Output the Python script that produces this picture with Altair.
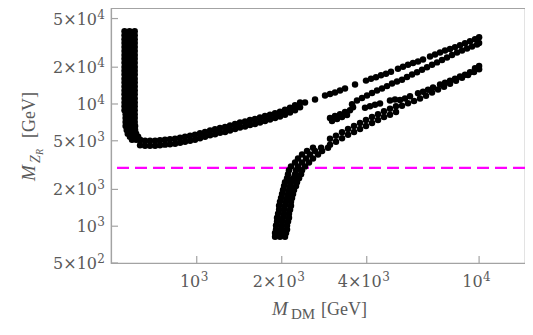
import altair as alt
import pandas as pd

# ---------------- data: (M_DM [GeV], M_ZR [GeV]) ----------------
# near-vertical band at low M_DM
left_band = [
    (555, 39300), (578, 39300), (603, 39300),
    (555, 36500), (578, 36500), (603, 36500),
    (555, 33900), (578, 33900), (603, 33900),
    (555, 31500), (578, 31500), (603, 31500),
    (555, 29200), (578, 29200), (603, 29200),
    (555, 27100), (578, 27100), (603, 27100),
    (555, 25200), (578, 25200), (603, 25200),
    (555, 23400), (578, 23400), (603, 23400),
    (555, 21700), (578, 21700), (603, 21700),
    (555, 20100), (578, 20100), (603, 20100),
    (555, 18700), (578, 18700), (603, 18700),
    (555, 17400), (578, 17400), (603, 17400),
    (555, 16100), (578, 16100), (603, 16100),
    (555, 15000), (578, 15000), (603, 15000),
    (555, 13900), (578, 13900), (603, 13900),
    (555, 12900), (578, 12900), (603, 12900),
    (555, 12000), (578, 12000), (603, 12000),
    (555, 11100), (578, 11100), (603, 11100),
    (555, 10300), (578, 10300), (603, 10300),
    (555, 9580), (578, 9580), (603, 9580),
    (555, 8900), (578, 8900), (603, 8900),
    (560, 8260), (580, 8260), (603, 8260),
    (560, 7670), (580, 7670), (603, 7670),
    (560, 7120), (580, 7120), (603, 7120),
    (560, 6610), (580, 6610), (605, 6610),
    (565, 6140), (585, 6140), (605, 6140),
    (570, 5700), (590, 5700), (610, 5700),
    (580, 5390), (600, 5390), (620, 5390),
    (590, 5100), (610, 5100), (630, 5100),
]

# upper branch, thick part (valley and rise)
upper_thick = [
    (630, 5050), (630, 4600), (656, 5000), (656, 4560),
    (683, 5000), (683, 4560), (712, 5000), (712, 4560),
    (741, 5050), (741, 4600), (772, 5100), (772, 4650),
    (804, 5140), (804, 4690), (838, 5190), (838, 4730),
    (873, 5290), (873, 4820), (909, 5390), (909, 4910),
    (947, 5490), (947, 5000), (986, 5590), (986, 5100),
    (1027, 5750), (1027, 5240), (1070, 5910), (1070, 5390),
    (1115, 6080), (1115, 5540), (1161, 6200), (1161, 5650),
    (1209, 6370), (1209, 5810), (1260, 6490), (1260, 5910),
    (1312, 6670), (1312, 6080), (1367, 6860), (1367, 6250),
    (1423, 7060), (1423, 6430), (1483, 7190), (1483, 6550),
    (1544, 7390), (1544, 6740), (1608, 7530), (1608, 6860),
    (1675, 7740), (1675, 7060), (1745, 7960), (1745, 7250),
    (1818, 8180), (1818, 7460), (1894, 8410), (1894, 7670),
    (1972, 8650), (1972, 7890), (2054, 8980), (2054, 8180),
    (2140, 9320), (2140, 8500), (2229, 9760), (2229, 8900),
    (2322, 10300), (2322, 9410),
]

# upper branch, dotted part
upper_thin = [
    (2418, 10300), (2624, 10900), (2847, 11750), (2965, 12090), (3088, 12430),
    (3217, 12900), (3351, 13390), (3636, 14420), (3976, 15530), (4142, 16120),
    (4314, 16580), (4494, 17200), (4681, 17680), (4875, 18350), (5161, 19410),
    (5377, 20140), (5601, 20900), (5834, 21690), (6077, 22300), (6330, 23140),
    (6702, 24480), (6982, 25390), (7272, 26360), (7575, 27360), (7889, 28130),
    (8218, 29190), (8559, 30290), (8915, 31450), (9287, 32640), (9672, 33880),
    (10000, 35160),
]

# second branch (starts with a small cluster)
second_branch = [
    (2965, 7670), (3014, 7250), (3140, 7530), (3270, 7810), (3406, 8110),
    (3088, 7960), (3217, 8260), (3351, 8580), (3490, 8900), (3577, 9410),
    (3548, 9950), (3695, 10700), (3849, 11200), (4009, 11750), (4176, 12300),
    (4350, 12900), (4531, 13400), (4719, 14000), (4916, 14700), (5120, 15300),
    (5333, 15800), (5555, 16600), (5788, 17400), (6029, 18200), (6279, 19100),
    (6540, 20000), (6812, 20900), (7096, 21900), (7391, 22900), (7698, 24000),
    (8018, 25200), (8352, 26400), (8699, 27400), (9061, 28400), (9438, 29500),
    (9830, 30600), (10000, 31500),
]

# third (dotted) branch
third_branch = [
    (3944, 9320), (4108, 9580), (4279, 9850), (4457, 10100), (4836, 10700),
    (5037, 10900), (5247, 10800), (5465, 11100), (5693, 11550), (6077, 12250),
    (6330, 12600), (6594, 13100), (6869, 13650), (7272, 14450), (7575, 14950),
    (7889, 15500), (8218, 16100), (8559, 16750), (8915, 17350), (9287, 18200),
    (9672, 19600), (10000, 20500),
]

# lower branch, steep part around M_DM ~ 2 TeV
lower_steep = [
    (1894, 820), (1972, 820), (2054, 820),
    (1894, 880), (1989, 880), (2071, 880),
    (1909, 940), (1989, 940), (2088, 940),
    (1909, 1013), (2005, 1013), (2088, 1013),
    (1925, 1091), (2005, 1091), (2105, 1091),
    (1925, 1175), (2021, 1175), (2122, 1175),
    (1941, 1266), (2038, 1266), (2122, 1266),
    (1957, 1364), (2038, 1364), (2140, 1364),
    (1957, 1469), (2054, 1469), (2157, 1469),
    (1972, 1582), (2071, 1582), (2157, 1582),
    (1989, 1704), (2088, 1704), (2175, 1704),
    (2005, 1835), (2105, 1835), (2193, 1835),
    (2021, 1977), (2122, 1977), (2211, 1977),
    (2038, 2129), (2140, 2129), (2247, 2129),
    (2054, 2293), (2157, 2293), (2265, 2293),
    (2088, 2470), (2193, 2470), (2303, 2470),
    (2105, 2661), (2229, 2661), (2341, 2661),
    (2122, 2867), (2247, 2867), (2360, 2867),
    (2157, 3087), (2284, 3087), (2418, 3087),
    (2229, 3325), (2360, 3325), (2498, 3325),
    (2284, 3581), (2438, 3581), (2581, 3581),
    (2360, 3857), (2519, 3857), (2689, 3857),
    (2458, 4116), (2624, 4116), (2779, 4116),
    (2581, 4393), (2757, 4393), (2917, 4393),
]

# lower branch, rising part
lower_rise = [
    (2965, 5190), (2965, 4650), (3113, 5490), (3113, 4910),
    (3270, 5860), (3270, 5240), (3434, 6250), (3434, 5590),
    (3606, 6610), (3606, 5910), (3787, 6990), (3787, 6250),
    (3976, 7390), (3976, 6610), (4176, 7810), (4176, 6990),
    (4385, 8260), (4385, 7390), (4605, 8740), (4605, 7810),
    (4836, 9150), (4836, 8180), (5078, 9580), (5078, 8580),
    (5333, 9670), (5601, 10150), (5882, 10600), (6177, 11100),
    (6486, 11700), (6812, 12400), (7154, 13150), (7512, 13850),
    (7889, 14650), (8284, 15500), (8699, 16400), (9137, 17300),
    (9594, 18300), (10000, 19200),
]

bound_mzr = [3000]  # dashed horizontal limit

x_tick_values = [1000, 2000, 4000, 10000]
x_tick_base = ["10", "2×10", "4×10", "10"]
x_tick_exp = ["3", "3", "3", "4"]
y_tick_values = [500, 1000, 2000, 5000, 10000, 20000, 50000]
y_tick_base = ["5×10", "10", "2×10", "5×10", "10", "2×10", "5×10"]
y_tick_exp = ["2", "3", "3", "3", "4", "4", "4"]

x_domain = [497, 14540]
y_domain = [500, 61000]

# ---------------- build chart ----------------
rows = []
for branch in (left_band, upper_thick, upper_thin, second_branch,
               third_branch, lower_steep, lower_rise):
    rows.extend(branch)
points_df = pd.DataFrame(rows, columns=["mdm", "mzr"])

GRAY = "#a3a3a3"
TEXT = "#5a5a5a"
FONT = "Liberation Serif"
LFONT = "DejaVu Serif"

xscale = alt.Scale(type="log", domain=x_domain, nice=False)
yscale = alt.Scale(type="log", domain=y_domain, nice=False)

xaxis = alt.Axis(values=x_tick_values, labels=False, title=None, ticks=False,
                 tickSize=0, grid=False, domainColor=GRAY, domainWidth=1.2)
yaxis = alt.Axis(values=y_tick_values, labels=False, title=None, ticks=False,
                 tickSize=0, grid=False, domainColor=GRAY, domainWidth=1.2)

X = lambda f: alt.X(f + ":Q", scale=xscale, axis=xaxis)
Y = lambda f: alt.Y(f + ":Q", scale=yscale, axis=yaxis)

dash = alt.Chart(pd.DataFrame({"mzr": bound_mzr})).mark_rule(
    color="#ff00ff", strokeDash=[12, 6], strokeWidth=2.2
).encode(y=Y("mzr"))

xticks = alt.Chart(pd.DataFrame({"mdm": x_tick_values})).mark_rule(
    color=GRAY, strokeWidth=1.2
).encode(x=X("mdm"), y=alt.value(255), y2=alt.value(248))

yticks = alt.Chart(pd.DataFrame({"mzr": y_tick_values})).mark_rule(
    color=GRAY, strokeWidth=1.2
).encode(y=Y("mzr"), x=alt.value(0), x2=alt.value(7))

points = alt.Chart(points_df).mark_circle(size=42, color="black", opacity=1).encode(
    x=X("mdm"), y=Y("mzr"),
)

# tick labels with real superscripts (base + exponent text marks)
tick_labels = []
for v, b, e in zip(x_tick_values, x_tick_base, x_tick_exp):
    d = pd.DataFrame({"mdm": [v]})
    off = 3.5 if len(b) == 2 else 15
    tick_labels.append(alt.Chart(d).mark_text(
        text=b, font=LFONT, fontSize=16, color=TEXT, align="right",
        baseline="alphabetic", dx=off).encode(x=X("mdm"), y=alt.value(279)))
    tick_labels.append(alt.Chart(d).mark_text(
        text=e, font=LFONT, fontSize=12, color=TEXT, align="left",
        baseline="alphabetic", dx=off + 0.5).encode(x=X("mdm"), y=alt.value(273)))
for v, b, e in zip(y_tick_values, y_tick_base, y_tick_exp):
    d = pd.DataFrame({"mzr": [v]})
    tick_labels.append(alt.Chart(d).mark_text(
        text=b, font=LFONT, fontSize=16, color=TEXT, align="right",
        baseline="alphabetic", dy=6).encode(y=Y("mzr"), x=alt.value(-14)))
    tick_labels.append(alt.Chart(d).mark_text(
        text=e, font=LFONT, fontSize=12, color=TEXT, align="right",
        baseline="alphabetic", dy=0).encode(y=Y("mzr"), x=alt.value(-6)))

anchor = pd.DataFrame({"a": [0]})


def txt(s, x, y, size, italic=False, angle=0):
    kw = dict(text=s, font=FONT, fontSize=size, color=TEXT, align="left",
              baseline="alphabetic")
    if italic:
        kw["fontStyle"] = "italic"
    if angle:
        kw["angle"] = angle
    return alt.Chart(anchor).mark_text(**kw).encode(x=alt.value(x), y=alt.value(y))


titles = [
    # x axis title: M_DM [GeV]
    txt("M", 161, 307, 19, italic=True),
    txt("DM", 180, 311, 15),
    txt("[GeV]", 210, 307, 18),
    # y axis title: M_{Z_R} [GeV]
    txt("M", -76, 173, 19, italic=True, angle=270),
    txt("Z", -71, 155, 14, italic=True, angle=270),
    txt("R", -68, 147, 10, italic=True, angle=270),
    txt("[GeV]", -76, 130, 18, angle=270),
]

chart = alt.layer(dash, xticks, yticks, points, *tick_labels, *titles).properties(
    width=414, height=255,
    autosize=alt.AutoSizeParams(type="none"),
    padding={"left": 103, "top": 0, "right": 0, "bottom": 72},
).configure_view(stroke=GRAY, strokeWidth=1.2)

chart.save("out.html", embed_options={"renderer": "svg", "actions": False})
